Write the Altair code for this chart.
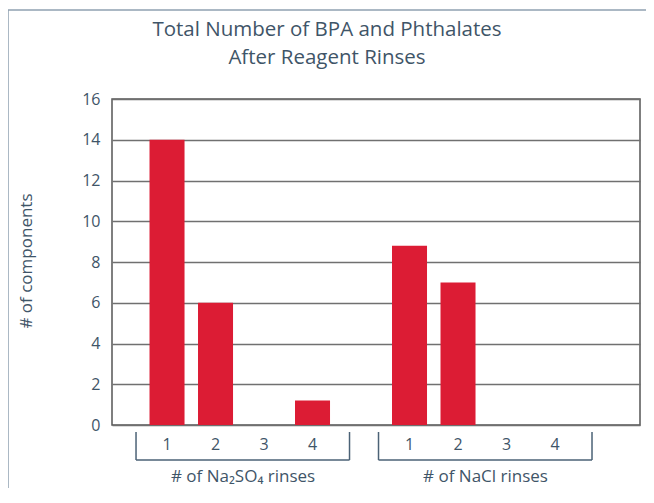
import altair as alt
import pandas as pd

# ---- data ----
rinse_numbers = ["1", "2", "3", "4"]
na2so4_counts = [14, 6, 0, 1.2]
nacl_counts = [8.8, 7, 0, 0]
group_keys = ["Na2SO4", "NaCl"]
group_labels = ["# of Na\u2082SO\u2084 rinses", "# of NaCl rinses"]
title_lines = ["Total Number of BPA and Phthalates", "After Reagent Rinses"]
y_title = "# of components"
y_ticks = [0, 2, 4, 6, 8, 10, 12, 14, 16]

# ---- styling ----
FONT = "Open Sans"
TEXT_COLOR = "#3f5568"
BAR_COLOR = "#DC1C34"
GRID_COLOR = "#707070"
FRAME_COLOR = "#8fa0b0"
BRACKET_COLOR = "#4b6276"

rows = []
for key, label, counts in zip(group_keys, group_labels, [na2so4_counts, nacl_counts]):
    for r, c in zip(rinse_numbers, counts):
        rows.append({"cat": f"{key} {r}", "rinse": r, "group": label, "count": c})
df = pd.DataFrame(rows)

# empty slots: one between the two groups, one after the last group
domain = [f"{group_keys[0]} {r}" for r in rinse_numbers] + [" "] + \
         [f"{group_keys[1]} {r}" for r in rinse_numbers] + ["  "]

groups = pd.DataFrame({
    "group": group_labels,
    "first": [f"{k} {rinse_numbers[0]}" for k in group_keys],
    "second": [f"{k} {rinse_numbers[1]}" for k in group_keys],
    "last": [f"{k} {rinse_numbers[-1]}" for k in group_keys],
})

x_scale = alt.Scale(domain=domain, paddingInner=0.278, paddingOuter=0.5825, align=0.664)

bars = alt.Chart(df).mark_bar(color=BAR_COLOR).encode(
    x=alt.X("cat:N", scale=x_scale, axis=None),
    y=alt.Y("count:Q", scale=alt.Scale(domain=[0, 16], nice=False),
            axis=alt.Axis(values=y_ticks, title=None, grid=True, gridColor=GRID_COLOR,
                          gridWidth=1.5, ticks=False, tickSize=0, domain=False,
                          labelPadding=12, labelFontSize=16, labelColor=TEXT_COLOR,
                          labelFont=FONT)),
)

tick_labels = alt.Chart(df).mark_text(fontSize=16, color=TEXT_COLOR, font=FONT,
                                      baseline="middle").encode(
    x=alt.X("cat:N", scale=x_scale, axis=None),
    y=alt.value(346),
    text="rinse:N",
)

bracket_left = alt.Chart(groups).mark_rule(color=BRACKET_COLOR, strokeWidth=1.5, xOffset=-31).encode(
    x=alt.X("first:N", scale=x_scale, axis=None), y=alt.value(333), y2=alt.value(361))
bracket_right = alt.Chart(groups).mark_rule(color=BRACKET_COLOR, strokeWidth=1.5, xOffset=37).encode(
    x=alt.X("last:N", scale=x_scale, axis=None), y=alt.value(333), y2=alt.value(361))
bracket_bottom = alt.Chart(groups).mark_rule(color=BRACKET_COLOR, strokeWidth=1.5,
                                             xOffset=-31, x2Offset=37).encode(
    x=alt.X("first:N", scale=x_scale, axis=None), x2="last:N", y=alt.value(361))

group_text = alt.Chart(groups).mark_text(fontSize=17, color=TEXT_COLOR, font=FONT,
                                         baseline="middle", xOffset=27.5).encode(
    x=alt.X("second:N", scale=x_scale, axis=None),
    y=alt.value(378),
    text="group:N",
)

title_layers = []
for line, ypix in zip(title_lines, [-69, -41]):
    title_layers.append(
        alt.Chart(pd.DataFrame({"t": [line]})).mark_text(
            fontSize=20.5, color=TEXT_COLOR, font=FONT, baseline="middle").encode(
            x=alt.value(215), y=alt.value(ypix), text="t:N")
    )

ytitle = alt.Chart(pd.DataFrame({"t": [y_title]})).mark_text(
    fontSize=17, color=TEXT_COLOR, font=FONT, angle=270, baseline="middle").encode(
    x=alt.value(-85), y=alt.value(162), text="t:N")

frame_left = alt.Chart(pd.DataFrame({"a": [0]})).mark_rule(color=FRAME_COLOR, strokeWidth=1.5).encode(
    x=alt.value(-104), y=alt.value(-89), y2=alt.value(401))
frame_top = alt.Chart(pd.DataFrame({"a": [0]})).mark_rule(color=FRAME_COLOR, strokeWidth=1.5).encode(
    x=alt.value(-104), x2=alt.value(541), y=alt.value(-89))

chart = alt.layer(
    bars, tick_labels, bracket_left, bracket_right, bracket_bottom, group_text,
    *title_layers, ytitle, frame_left, frame_top
).properties(
    width=528, height=326,
    autosize=alt.AutoSizeParams(type="none"),
    padding={"left": 104, "top": 91, "right": 6, "bottom": 63},
).configure_view(
    stroke="#555555", strokeWidth=1.5
)

chart.save("out.html", embed_options={"renderer": "svg", "actions": False})
